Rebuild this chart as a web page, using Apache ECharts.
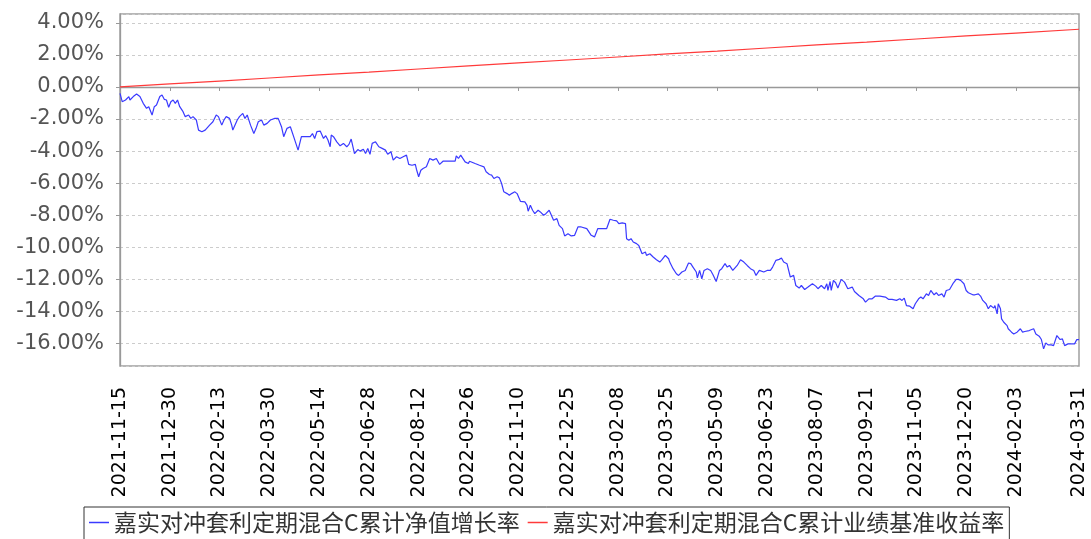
<!DOCTYPE html>
<html><head><meta charset="utf-8">
<script src="https://cdn.jsdelivr.net/npm/echarts@6/dist/echarts.min.js"></script>
<style>html,body{margin:0;padding:0;background:#fff}#c{width:1091px;height:539px}</style>
</head><body><div id="c"></div>
<script>
const startDate = '2021-11-15';
const tickLabels = ['2021-11-15','2021-12-30','2022-02-13','2022-03-30','2022-05-14','2022-06-28','2022-08-12','2022-09-26','2022-11-10','2022-12-25','2023-02-08','2023-03-25','2023-05-09','2023-06-23','2023-08-07','2023-09-21','2023-11-05','2023-12-20','2024-02-03','2024-03-31'];
const seriesNames = ['嘉实对冲套利定期混合C累计净值增长率','嘉实对冲套利定期混合C累计业绩基准收益率'];
// day offsets from startDate
const navDays = [0,2,5,8,9,12,15,18,21,24,26,29,31,33,36,38,40,42,44,46,48,50,52,54,57,59,62,64,66,69,71,74,77,81,84,87,89,92,94,96,99,101,102,106,108,111,113,115,118,121,123,125,128,130,133,136,140,143,146,148,151,154,157,159,161,
164,167,172,174,176,178,181,184,186,188,190,191,193,196,199,202,205,207,209,212,215,217,220,222,224,226,228,231,234,237,240,242,245,247,250,253,256,259,261,264,267,268,270,272,274,277,280,283,286,289,292,295,
298,303,304,306,308,312,315,316,321,325,329,331,334,336,338,341,343,345,347,350,352,354,357,359,362,366,368,369,371,373,375,378,380,383,385,388,390,392,395,397,400,402,405,408,411,414,417,422,426,429,432,435,440,
443,446,449,451,454,457,458,460,462,464,467,469,472,475,476,479,482,485,488,490,493,496,497,500,503,505,508,511,514,516,518,521,522,524,526,528,531,534,536,539,542,544,547,549,551,554,558,561,564,567,570,573,575,578,582,585,588,
590,593,596,598,600,603,606,609,611,614,616,619,622,626,629,631,634,637,639,640,642,643,645,647,649,652,655,658,662,664,668,672,674,677,680,683,687,692,695,698,702,705,707,709,711,714,717,719,722,724,726,729,731,733,
736,738,740,743,745,747,750,753,756,758,760,763,765,767,771,773,776,778,780,783,785,787,790,791,793,794,796,797,799,802,803,806,808,811,814,816,818,822,826,828,831,833,835,837,839,842,844,847,850,852,854,857,860,863,865,867];
const navValues = [-0.40,-0.92,-0.81,-0.60,-0.81,-0.60,-0.44,-0.60,-1.02,-1.33,-1.23,-1.75,-1.23,-1.13,-0.60,-0.50,-0.77,-0.81,-1.27,-0.92,-0.81,-1.02,-0.81,-1.23,-1.54,-1.85,-1.75,-1.96,-1.85,-2.06,-2.69,-2.79,-2.69,-2.38,-2.17,-1.75,-1.85,-2.38,-2.06,-1.85,-1.96,-2.38,-2.69,-2.06,-1.85,-1.65,-1.96,-1.75,-2.38,-2.90,-2.58,-2.17,-2.06,-2.38,-2.27,-2.06,-1.96,-1.96,-2.48,-3.10,-2.58,-2.48,-3.10,-3.52,-3.94,
-3.10,-3.10,-3.10,-2.90,-3.21,-2.79,-2.75,-3.21,-3.04,-3.31,-3.73,-3.00,-3.10,-3.42,-3.67,-3.52,-3.73,-3.58,-3.25,-4.15,-3.90,-4.00,-3.88,-4.15,-3.83,-4.20,-3.52,-3.42,-3.73,-3.83,-3.94,-4.20,-4.04,-4.56,-4.35,-4.46,-4.35,-4.25,-4.83,-4.88,-4.83,-5.13,-5.60,-5.19,-5.08,-4.98,-4.46,-4.56,-4.46,-4.83,-4.63,-4.63,
-4.63,-4.63,-4.29,-4.46,-4.25,-4.67,-4.77,-4.63,-4.77,-4.88,-4.98,-5.29,-5.46,-5.50,-5.71,-5.60,-5.67,-6.02,-6.54,-6.65,-6.75,-6.65,-6.54,-6.65,-7.13,-7.17,-7.38,-7.75,-7.38,-7.69,-7.90,-7.69,-7.79,-8.00,-7.90,-7.69,-8.00,-8.31,-8.21,-8.63,-8.83,-9.29,-9.15,-9.29,-9.25,-8.73,-8.73,-8.83,-9.25,-9.35,-8.83,-8.83,-8.83,
-8.25,-8.31,-8.35,-8.52,-8.48,-8.52,-9.46,-9.56,-9.46,-9.67,-9.77,-9.88,-10.40,-10.29,-10.50,-10.40,-10.60,-10.77,-10.92,-10.77,-10.50,-10.71,-10.92,-11.33,-11.65,-11.75,-11.54,-11.44,-10.98,-11.02,-11.23,-11.54,-11.90,-11.44,-11.96,-11.44,-11.33,-11.44,-11.69,-12.13,-11.44,-11.33,-11.02,-11.23,-11.13,-11.44,-11.13,-10.77,-10.92,-11.13,-11.33,-11.44,-11.75,-11.44,-11.54,-11.44,-11.44,
-11.23,-10.81,-10.75,-10.67,-10.92,-11.02,-11.85,-11.75,-12.38,-12.54,-12.38,-12.63,-12.48,-12.27,-12.42,-12.58,-12.38,-12.58,-12.27,-12.69,-12.13,-12.69,-12.06,-12.21,-12.54,-12.00,-12.17,-12.58,-12.48,-12.75,-13.00,-13.21,-13.42,-13.21,-13.21,-13.04,-13.04,-13.10,-13.25,-13.25,-13.31,-13.21,-13.31,-13.17,-13.63,-13.67,-13.83,-13.52,-13.21,-13.10,-13.21,-12.90,-13.00,-12.69,
-12.96,-12.83,-13.00,-12.90,-13.10,-12.69,-12.63,-12.27,-12.00,-12.00,-12.06,-12.27,-12.69,-12.83,-12.96,-12.96,-12.90,-13.04,-13.31,-13.52,-13.83,-13.63,-13.79,-13.63,-14.15,-13.52,-13.83,-14.46,-14.67,-14.88,-15.08,-15.29,-15.40,-15.29,-15.08,-15.29,-15.25,-15.19,-15.08,-15.40,-15.54,-15.75,-16.33,-15.96,-16.08,-16.08,-16.13,-15.50,-15.75,-15.71,-16.13,-16.02,-16.02,-16.02,-15.75,-15.75];
const benchDates = tickLabels;
const benchValues = [0.00,0.19,0.37,0.56,0.75,0.93,1.12,1.31,1.50,1.68,1.87,2.06,2.24,2.43,2.62,2.80,2.99,3.18,3.36,3.60];

const t0 = Date.UTC(2021, 10, 15);
function dayOffset(s){ const p = s.split('-').map(Number); return Math.round((Date.UTC(p[0], p[1]-1, p[2]) - t0) / 86400000); }
function dayToStr(n){ return new Date(t0 + Math.round(n) * 86400000).toISOString().slice(0, 10); }
const tickDays = tickLabels.map(dayOffset);
const navData = navDays.map((d, i) => [d, navValues[i]]);
const benchData = benchDates.map((s, i) => [dayOffset(s), benchValues[i]]);

const chart = echarts.init(document.getElementById('c'), null, {renderer: 'canvas'});
chart.setOption({
  animation: false,
  backgroundColor: '#ffffff',
  grid: {left: 120, right: 12, top: 14, bottom: 173, show: true, borderColor: '#a0a0a0', borderWidth: 1.5, backgroundColor: 'transparent'},
  xAxis: {
    type: 'value', min: 0, max: tickDays[tickDays.length - 1], offset: 5,
    axisLine: {show: true, lineStyle: {color: '#999', width: 1.3}},
    axisTick: {show: true, length: 4, lineStyle: {color: '#999'}, customValues: tickDays},
    axisLabel: {customValues: tickDays, rotate: 90, margin: 16, color: '#000', fontSize: 19, fontFamily: 'DejaVu Sans', formatter: v => dayToStr(v)},
    splitLine: {show: false}
  },
  yAxis: {
    type: 'value', min: -17.4, max: 4.55, splitNumber: 10, offset: 5,
    axisLine: {show: true, lineStyle: {color: '#999', width: 1.3}},
    axisTick: {show: true, length: 4, lineStyle: {color: '#999'}},
    axisLabel: {margin: 11, color: '#555', fontSize: 21, fontFamily: 'DejaVu Sans', showMinLabel: false, showMaxLabel: false, formatter: v => v.toFixed(2) + '%'},
    splitLine: {show: true, lineStyle: {color: '#cccccc', type: [3, 3], width: 1}}
  },
  legend: {
    data: seriesNames, left: 84, top: 507, orient: 'horizontal',
    icon: 'rect', itemWidth: 20, itemHeight: 1.5, itemGap: 8,
    borderColor: '#333', borderWidth: 1, padding: [4, 5, 12, 5],
    textStyle: {fontSize: 23, color: '#333', fontFamily: 'Noto Sans CJK SC'}
  },
  series: [
    {name: seriesNames[0], type: 'line', data: navData, symbol: 'none', lineStyle: {color: '#3a3aff', width: 1.2}, itemStyle: {color: '#3a3aff'}},
    {name: seriesNames[1], type: 'line', data: benchData, symbol: 'none', lineStyle: {color: '#ff3a3a', width: 1.2}, itemStyle: {color: '#ff3a3a'}}
  ]
});
</script></body></html>
